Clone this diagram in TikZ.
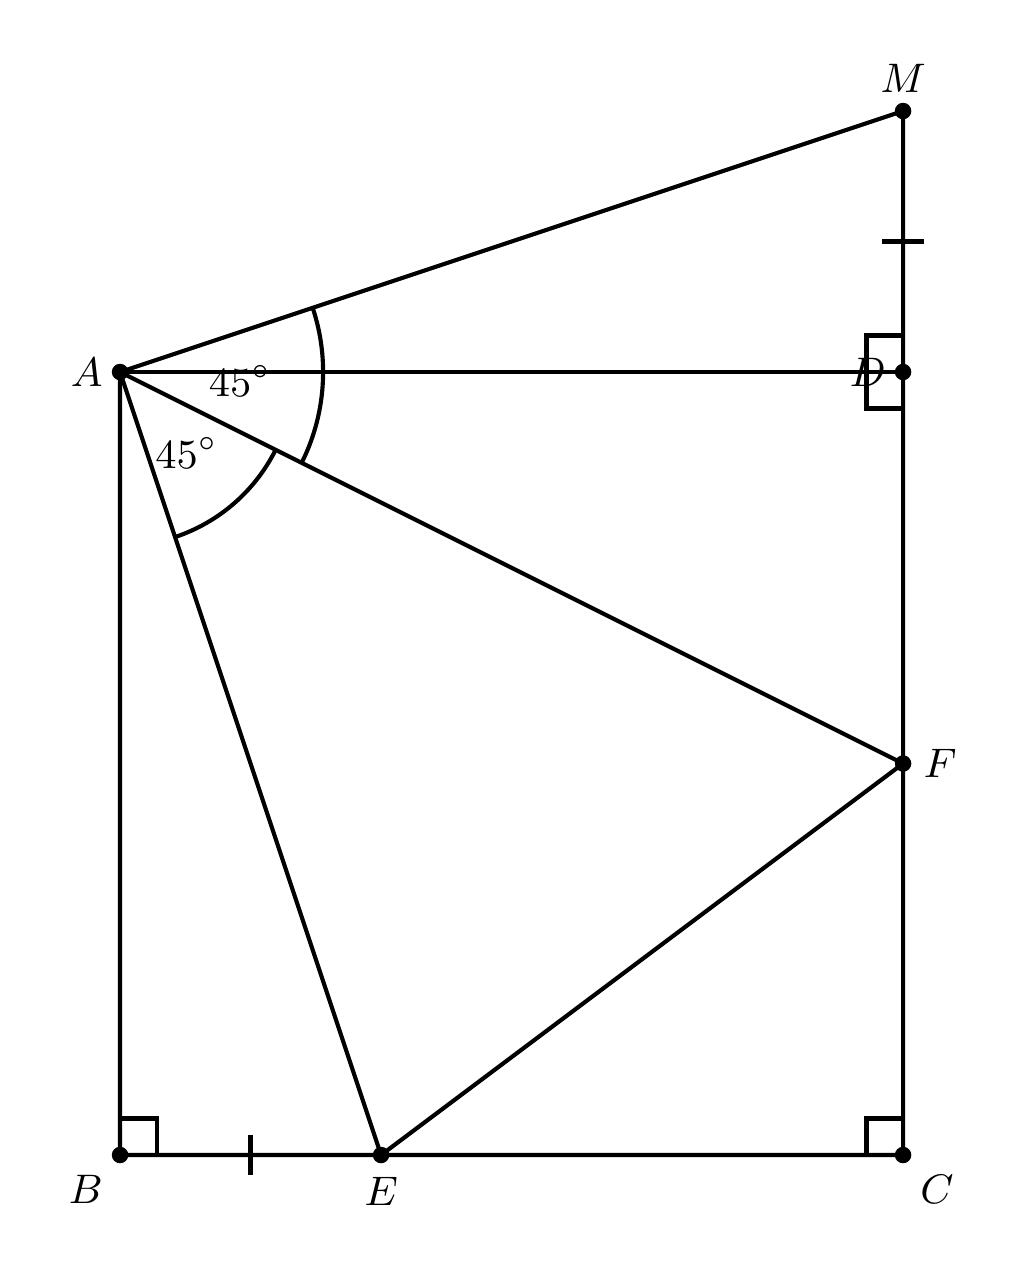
\documentclass[tikz,border=0pt]{standalone}
\usetikzlibrary{calc,positioning}

\begin{document}
\begin{tikzpicture}[line width=0.9pt, font=\small,
	dot/.style={circle, fill, inner sep=0pt, minimum size=3.6pt}]
	\useasboundingbox (-0.92,-0.835) rectangle (6.927,8.851);
	\coordinate (B) at (0,0);
	\coordinate (C) at (6,0);
	\coordinate (D) at (6,6);
	\coordinate (A) at (0,6);
	\coordinate (E) at (2,0);
	\coordinate (F) at (6,3);
	\coordinate (M) at (6,8);
	% square and triangles
	\draw (A) -- (B) -- (C) -- (M) -- (A);
	\draw (A) -- (D);
	\draw (A) -- (E) -- (F) -- (A);
	% right angles
	\draw ($(B)+(0,0.28)$) -- ++(0.28,0) -- ++(0,-0.28);
	\draw ($(C)+(0,0.28)$) -- ++(-0.28,0) -- ++(0,-0.28);
	\draw ($(D)+(0,0.28)$) -- ++(-0.28,0) -- ++(0,-0.56) -- ++(0.28,0);
	% equal marks
	\draw ($(B)!0.5!(E)+(0,0.15)$) -- ++(0,-0.3);
	\draw ($(D)!0.5!(M)+(-0.16,0)$) -- ++(0.32,0);
	% angles
	\draw ($(A)+(18.43:1.556)$) arc[start angle=18.43, end angle=-26.57, radius=1.556];
	\draw ($(A)+(-26.57:1.333)$) arc[start angle=-26.57, end angle=-71.57, radius=1.333];
	\node (angMAF) at ($(A)+(0.92,-0.07)$) {$45^\circ$};
	\node (angFAE) at ($(A)+(0.51,-0.62)$) {$45^\circ$};
	% points
	\foreach \p in {A,B,C,D,E,F,M} \node[dot] (dot\p) at (\p) {};
	\node[left=0pt of A] (labA) {$A$};
	\node[below left=0.7pt and 0pt of B] (labB) {$B$};
	\node[below right=0.7pt and 0pt of C] (labC) {$C$};
	\node[left=0pt of D] (labD) {$D$};
	\node[below=1pt of E] (labE) {$E$};
	\node[right=0.7pt of F] (labF) {$F$};
	\node[above=0.3pt of M] (labM) {$M$};
\end{tikzpicture}
\end{document}
